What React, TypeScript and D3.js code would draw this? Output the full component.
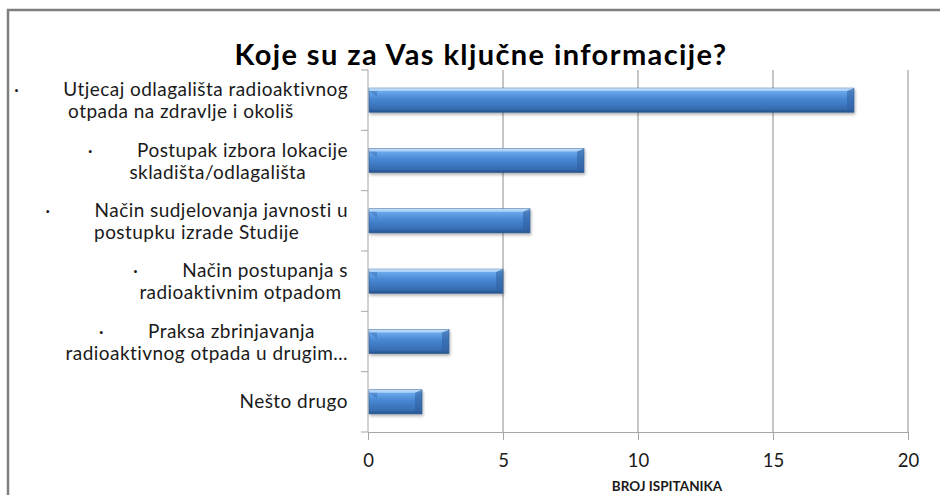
import React, { useEffect, useRef } from 'react';
import * as d3 from 'd3';

// categories, top to bottom, each split into the lines shown in the chart
const categories = [
  ['Utjecaj odlagališta radioaktivnog', 'otpada na zdravlje i okoliš'],
  ['Postupak izbora lokacije', 'skladišta/odlagališta'],
  ['Način sudjelovanja javnosti u', 'postupku izrade Studije'],
  ['Način postupanja s', 'radioaktivnim otpadom'],
  ['Praksa zbrinjavanja', 'radioaktivnog otpada u drugim…'],
  ['Nešto drugo'],
];
const bullets = [true, true, true, true, true, false];
const values = [18, 8, 6, 5, 3, 2];
const xTicks = [0, 5, 10, 15, 20];
const title = 'Koje su za Vas ključne informacije?';
const xTitle = 'BROJ ISPITANIKA';

const W = 940;
const H = 495;
const FONT = 'Lato, "Open Sans", sans-serif';

export default function App() {
  const ref = useRef<SVGSVGElement>(null);

  useEffect(() => {
    const svg = d3.select(ref.current);
    svg.selectAll('*').remove();

    const margin = { top: 70, right: 32, bottom: 63, left: 368 };
    const x = d3.scaleLinear().domain([0, 20]).range([margin.left, W - margin.right]);
    const y = d3.scaleBand<number>()
      .domain(d3.range(categories.length))
      .range([margin.top, H - margin.bottom])
      .paddingInner(0.6)
      .paddingOuter(0.3);
    const step = y.step();

    const defs = svg.append('defs');
    const grad = defs.append('linearGradient')
      .attr('id', 'barGrad').attr('x1', 0).attr('y1', 0).attr('x2', 0).attr('y2', 1);
    grad.append('stop').attr('offset', '0%').attr('stop-color', '#b4d8fa');
    grad.append('stop').attr('offset', '14%').attr('stop-color', '#6aa8ec');
    grad.append('stop').attr('offset', '45%').attr('stop-color', '#4787d2');
    grad.append('stop').attr('offset', '85%').attr('stop-color', '#376db2');
    grad.append('stop').attr('offset', '100%').attr('stop-color', '#24508a');
    const shadow = defs.append('filter').attr('id', 'shadow')
      .attr('x', '-5%').attr('y', '-20%').attr('width', '110%').attr('height', '160%');
    shadow.append('feDropShadow').attr('dx', 1).attr('dy', 2).attr('stdDeviation', 1.5)
      .attr('flood-color', '#000').attr('flood-opacity', 0.3);

    // outer frame (only the top and left edges fall inside the picture)
    svg.append('rect')
      .attr('x', 8).attr('y', 10).attr('width', W + 20).attr('height', H + 20)
      .attr('fill', 'none').attr('stroke', '#7f7f7f').attr('stroke-width', 2.5);

    // title
    svg.append('text')
      .attr('x', 481).attr('y', 65)
      .attr('text-anchor', 'middle')
      .attr('font-family', FONT).attr('font-weight', 'bold').attr('font-size', 29)
      .attr('letter-spacing', 1.4)
      .attr('fill', '#000')
      .text(title);

    // vertical grid lines
    svg.append('g').selectAll('line')
      .data(xTicks.slice(1))
      .enter().append('line')
      .attr('x1', d => x(d)).attr('x2', d => x(d))
      .attr('y1', margin.top).attr('y2', H - margin.bottom)
      .attr('stroke', '#8c8c8c').attr('stroke-width', 1);

    // x axis
    const xAxis = svg.append('g')
      .attr('transform', `translate(0,${H - margin.bottom})`)
      .call(d3.axisBottom(x).tickValues(xTicks).tickSize(8).tickPadding(14).tickSizeOuter(0));
    xAxis.select('.domain').attr('stroke', '#a6a6a6');
    xAxis.selectAll('.tick line').attr('stroke', '#a6a6a6');
    xAxis.selectAll('.tick text')
      .attr('font-family', FONT).attr('font-size', 18.5).attr('fill', '#1a1a1a');

    svg.append('text')
      .attr('x', 667).attr('y', 491)
      .attr('text-anchor', 'middle')
      .attr('font-family', FONT).attr('font-weight', 'bold').attr('font-size', 13.5)
      .attr('fill', '#1a1a1a')
      .text(xTitle);

    // y axis with ticks between categories
    const yAxis = svg.append('g');
    yAxis.append('line')
      .attr('x1', x(0)).attr('x2', x(0))
      .attr('y1', margin.top).attr('y2', H - margin.bottom)
      .attr('stroke', '#a6a6a6');
    yAxis.selectAll('line.tk')
      .data(d3.range(categories.length + 1))
      .enter().append('line').attr('class', 'tk')
      .attr('x1', x(0) - 7).attr('x2', x(0))
      .attr('y1', i => margin.top + i * step).attr('y2', i => margin.top + i * step)
      .attr('stroke', '#a6a6a6');

    // bars
    const xa = x(0) + 1;
    const bev = 7;
    const bars = svg.append('g').selectAll('g.bar')
      .data(values)
      .enter().append('g').attr('class', 'bar');
    bars.append('rect')
      .attr('x', xa)
      .attr('y', (d, i) => y(i)!)
      .attr('width', d => x(d) - xa)
      .attr('height', y.bandwidth())
      .attr('fill', 'url(#barGrad)')
      .attr('stroke', '#2f5d93').attr('stroke-width', 0.6)
      .attr('filter', 'url(#shadow)');
    // right end bevel: darker face
    bars.append('path')
      .attr('d', (d, i) => {
        const x1 = x(d), y0 = y(i)!, h = y.bandwidth();
        return `M${x1},${y0} L${x1 - bev},${y0 + 3} L${x1 - bev},${y0 + h - 3} L${x1},${y0 + h} Z`;
      })
      .attr('fill', '#2f5f9e').attr('opacity', 0.55);
    // top highlight strip
    bars.append('path')
      .attr('d', (d, i) => {
        const x1 = x(d), y0 = y(i)!;
        return `M${x1},${y0} L${x1 - bev},${y0 + 3} L${xa},${y0 + 3} L${xa},${y0} Z`;
      })
      .attr('fill', '#c9e3fc').attr('opacity', 0.6);
    // left end bevel
    bars.append('path')
      .attr('d', (d, i) => {
        const y0 = y(i)!;
        return `M${xa},${y0 + 3} L${xa + 8},${y0 + 9} L${xa + 8},${y0 + 3} Z`;
      })
      .attr('fill', '#2f5f9e').attr('opacity', 0.35);

    // category labels: lines centred on one another, block right-aligned to the axis
    const labels = svg.append('g');
    const right = x(0) - 20;
    categories.forEach((lines, i) => {
      const cy = margin.top + (i + 0.5) * step;
      const first = lines.length > 1 ? cy - 4 : cy + 6.5;
      const g = labels.append('g');
      const texts = lines.map((ln, j) => {
        const t = g.append('text')
          .attr('y', first + j * 22)
          .attr('font-family', FONT).attr('font-size', 19).attr('letter-spacing', 0.45)
          .attr('fill', '#1a1a1a');
        if (j === 0 && bullets[i]) {
          t.append('tspan').text('·');
          t.append('tspan').attr('dx', 44).text(ln);
        } else {
          t.text(ln);
        }
        return t;
      });
      const widths = texts.map(t => (t.node() as SVGTextElement).getBBox().width);
      const bw = d3.max(widths)!;
      const cx = right - bw / 2;
      texts.forEach((t, j) => t.attr('x', cx - widths[j] / 2));
    });
  }, []);

  return (
    <svg
      ref={ref}
      width={W}
      height={H}
      style={{ position: 'absolute', left: 0, top: 0, background: '#fff' }}
    />
  );
}
